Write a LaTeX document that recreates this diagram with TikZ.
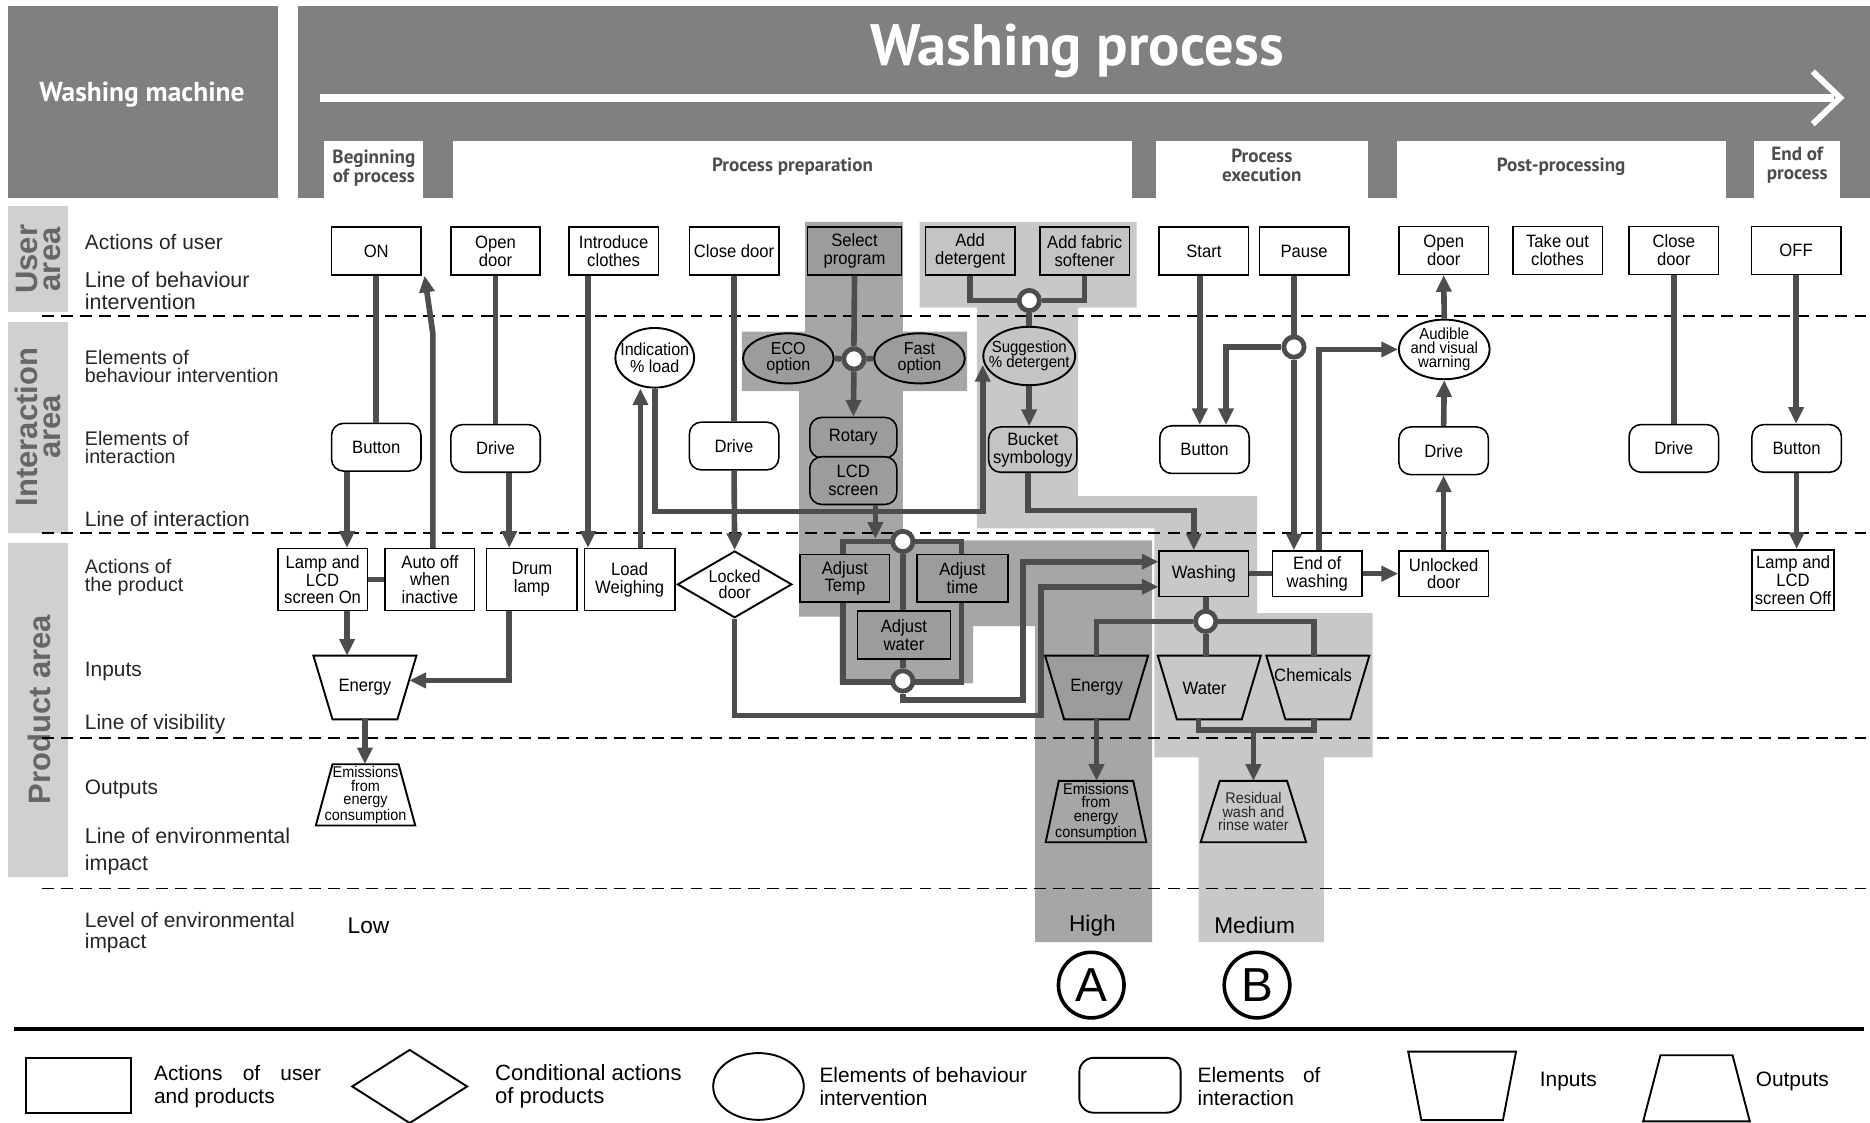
\documentclass[tikz,border=0pt]{standalone}
\usepackage{fontspec}
\setmainfont{Liberation Sans}
\newfontfamily\boxfont[FakeStretch=0.93]{Liberation Sans}
\newfontfamily\headfont{PT Sans}
\usetikzlibrary{shapes.geometric,arrows.meta,calc}
\definecolor{hdr}{HTML}{808080}
\definecolor{dk}{HTML}{A6A6A6}
\definecolor{dkn}{HTML}{9C9C9C}
\definecolor{lt}{HTML}{C8C8C8}
\definecolor{ltn}{HTML}{C4C4C4}
\definecolor{cg}{HTML}{4D4D4D}
\definecolor{side}{HTML}{D0D0D0}
\definecolor{sidetxt}{HTML}{666666}
\definecolor{phtxt}{HTML}{4D4D4D}
\definecolor{lbltxt}{HTML}{262626}
\newcommand{\intrap}[3]{\draw[shp,fill=#3] (#1.north west) -- (#1.north east) -- ([xshift=-#2]#1.south east) -- ([xshift=#2]#1.south west) -- cycle;}
\newcommand{\outtrap}[3]{\draw[shp,fill=#3] ([xshift=#2]#1.north west) -- ([xshift=-#2]#1.north east) -- (#1.south east) -- (#1.south west) -- cycle;}
\begin{document}
\begin{tikzpicture}[x=1pt,y=-1pt,
  conn/.style={draw=cg, line width=4.7pt},
  arr/.style={-{Triangle[length=14pt,width=12.5pt]}},
  act/.style={draw, line width=1.3pt, fill=white, minimum width=75pt, minimum height=40pt,
    inner sep=0pt, align=center, font=\boxfont\fontsize{15}{15}\selectfont},
  ibox/.style={act, rounded corners=10pt},
  shp/.style={draw, line width=1.6pt, inner sep=0pt},
  behav/.style={shp, ellipse, fill=white},
  tbox/.style={inner sep=0pt},
  bt/.style={font=\boxfont\fontsize{15}{15}\selectfont, align=center, inner sep=0pt},
  junc/.style={circle, draw=cg, line width=4pt, fill=white, minimum size=17pt, inner sep=0pt},
  rowlbl/.style={anchor=west, align=left, inner sep=0pt, text=lbltxt, font=\fontsize{17.5}{18}\selectfont},
  phase/.style={align=center, inner sep=0pt, text=phtxt, font=\headfont\bfseries\fontsize{16}{16}\selectfont},
  sidel/.style={rotate=90, align=center, inner sep=0pt, text=sidetxt, font=\bfseries\fontsize{26}{19}\selectfont},
  lgt/.style={anchor=west, align=left, inner sep=0pt, font=\fontsize{17.5}{19}\selectfont},
  dline/.style={dash pattern=on 10pt off 6pt, line width=1.6pt}
]
\useasboundingbox (0,0) rectangle (1568,941.6);

% ---------- header ----------
\fill[hdr] (7,5) rectangle (233,166);
\fill[hdr] (250,5) rectangle (1568,166);
\node[text=white, inner sep=0pt, font=\headfont\bfseries\fontsize{23}{24}\selectfont] (wm) at (119,79) {Washing machine};
\node[text=white, inner sep=0pt, font=\headfont\bfseries\fontsize{49}{50}\selectfont] (wp) at (903,43) {Washing process};
\draw[white, line width=7pt] (268,82) -- (1538,82);
\draw[white, line width=5pt] (1520,60) -- (1543,82) -- (1520,104);
\fill[white] (272,118) rectangle (355,166);
\fill[white] (380,118) rectangle (949,166);
\fill[white] (969,118) rectangle (1147,166);
\fill[white] (1171,118) rectangle (1447,166);
\fill[white] (1471,118) rectangle (1543,166);
\node[phase] (ph1) at (313.5,141) {Beginning\\of process};
\node[phase] (ph2) at (664.5,140) {Process preparation};
\node[phase] (ph3) at (1058,138.5) {Process\\execution};
\node[phase] (ph4) at (1309,140) {Post-processing};
\node[phase] (ph5) at (1507,138.5) {End of\\process};

% ---------- side areas ----------
\fill[side] (7,173) rectangle (57,262);
\fill[side] (7,270) rectangle (57,447);
\fill[side] (7,455) rectangle (57,735);
\node[sidel] (sa1) at (32,217.5) {User\\area};
\node[sidel] (sa2) at (32,358) {Interaction\\area};
\node[sidel] (sa3) at (33,595) {Product area};

% ---------- row labels ----------
\node[rowlbl] (r1) at (71,203) {Actions of user};
\node[rowlbl, font=\fontsize{18}{18}\selectfont] (r2) at (71,244) {Line of behaviour\\intervention};
\node[rowlbl, font=\fontsize{16.5}{15}\selectfont] (r3) at (71,307.5) {Elements of\\behaviour intervention};
\node[rowlbl, font=\fontsize{16.5}{15}\selectfont] (r4) at (71,375.5) {Elements of\\interaction};
\node[rowlbl] (r5) at (71,435) {Line of interaction};
\node[rowlbl, font=\fontsize{16.5}{15}\selectfont] (r6) at (71,484.5) {Actions of\\the product};
\node[rowlbl] (r7) at (71,563) {Inputs};
\node[rowlbl] (r8) at (71,607) {Line of visibility};
\node[rowlbl] (r9) at (71,662) {Outputs};
\node[rowlbl, font=\fontsize{18}{22}\selectfont] (r10) at (71,714) {Line of environmental\\impact};
\node[rowlbl, font=\fontsize{17.5}{18}\selectfont] (r11) at (71,782) {Level of environmental\\impact};

% ---------- shaded regions ----------
\fill[dk] (675,186) -- (757,186) -- (757,278) -- (811,278) -- (811,328) -- (757,328)
  -- (757,453) -- (966,453) -- (966,790) -- (868,790) -- (868,525) -- (816,525)
  -- (816,573) -- (704,573) -- (704,517) -- (670,517) -- (670,328) -- (622,328)
  -- (622,278) -- (675,278) -- cycle;
\fill[lt] (771,186) -- (953,186) -- (953,258) -- (904,258) -- (904,416) -- (1054,416)
  -- (1054,514) -- (1151,514) -- (1151,635) -- (1110,635) -- (1110,790) -- (1005,790)
  -- (1005,635) -- (968,635) -- (968,443) -- (819,443) -- (819,258) -- (771,258) -- cycle;

% ---------- dashed lines ----------
\draw[dline] (35,265) -- (1568,265);
\draw[dline] (35,447) -- (1568,447);
\draw[dline] (35,619) -- (1568,619);
\draw[dline] (35,745) -- (1568,745);
\draw[line width=3pt] (12,863) -- (1563,863);

% ---------- row 1: actions of user ----------
\node[act] (on) at (315.5,210.5) {ON};
\node[act] (open1) at (415.5,210.5) {Open\\door};
\node[act] (intro) at (514.5,210.5) {Introduce\\clothes};
\node[act] (close1) at (615.5,210.5) {Close door};
\node[act, fill=dkn, minimum width=79pt] (selp) at (716.5,210.5) {Select\\program};
\node[act, fill=ltn] (adet) at (813.5,210.5) {Add\\detergent};
\node[act, fill=ltn] (asoft) at (909.5,210.5) {Add fabric\\softener};
\node[act] (start) at (1009.5,210.5) {Start};
\node[act] (pause) at (1093.5,210.5) {Pause};
\node[act] (open2) at (1210.5,210) {Open\\door};
\node[act] (takeout) at (1306,210) {Take out\\clothes};
\node[act] (close2) at (1403.5,210) {Close\\door};
\node[act] (off) at (1506,210) {OFF};

% ---------- row 2: behaviour intervention ----------
\node[behav, minimum width=66pt, minimum height=50pt] (indic) at (549,300) {};
\node[bt, font=\boxfont\fontsize{14.5}{14}\selectfont] (indict) at (indic) {Indication\\\% load};
\node[behav, fill=dkn, minimum width=76pt, minimum height=42pt] (eco) at (661,300.5) {};
\node[bt, font=\boxfont\fontsize{14.5}{13.5}\selectfont] (ecot) at (eco) {ECO\\option};
\node[behav, fill=dkn, minimum width=76pt, minimum height=42pt] (fast) at (771,300.5) {};
\node[bt, font=\boxfont\fontsize{14.5}{13.5}\selectfont] (fastt) at (fast) {Fast\\option};
\node[junc] (j1) at (716,301) {};
\node[junc] (j2) at (863,252) {};
\node[behav, fill=ltn, minimum width=77pt, minimum height=49pt] (sugg) at (863,298.5) {};
\node[bt, font=\boxfont\fontsize{13.5}{13}\selectfont] (suggt) at (sugg) {Suggestion\\\% detergent};
\node[junc] (jp) at (1085,291) {};
\node[behav, minimum width=76pt, minimum height=50pt] (aud) at (1211,293) {};
\node[bt, font=\boxfont\fontsize{13.5}{11.5}\selectfont] (audt) at (aud) {Audible\\and visual\\warning};

% ---------- row 3: interaction ----------
\node[ibox] (btn1) at (315.5,375) {Button};
\node[ibox] (drv1) at (415.5,376) {Drive};
\node[ibox] (drv2) at (615.5,374) {Drive};
\node[ibox, fill=dkn, minimum width=73pt, minimum height=34pt] (rot) at (715.5,367) {Rotary};
\node[ibox, fill=dkn, minimum width=73pt, minimum height=40pt] (lcd) at (715.5,403) {LCD\\screen};
\node[ibox, fill=ltn, minimum width=74pt, minimum height=38pt] (bucket) at (866,377) {Bucket\\symbology};
\node[ibox] (btn2) at (1010,377) {Button};
\node[ibox] (drv3) at (1210.5,378) {Drive};
\node[ibox] (drv4) at (1403.5,376) {Drive};
\node[ibox] (btn3) at (1506.5,376) {Button};

% ---------- row 4: actions of the product ----------
\node[act, minimum height=52pt] (lamp1) at (270.5,486) {Lamp and\\LCD\\screen On};
\node[act, minimum height=52pt] (auto) at (360.5,486) {Auto off\\when\\inactive};
\node[act, minimum height=52pt, minimum width=76pt] (drum) at (446,486) {Drum\\lamp};
\node[act, minimum height=52pt, minimum width=76pt] (load) at (528,486) {Load\\Weighing};
\node[shp, diamond, fill=white, minimum width=96pt, minimum height=56pt] (locked) at (616,490) {};
\node[bt, font=\boxfont\fontsize{14.5}{13}\selectfont] (lockedt) at (locked) {Locked\\door};
\node[draw=cg, line width=4.5pt, minimum width=99pt, minimum height=118pt, inner sep=0pt] (frame) at (756.5,513) {};
\node[act, fill=dkn] (adjt) at (708.5,485) {Adjust\\Temp};
\node[act, fill=dkn, minimum width=76pt] (adjtime) at (807,485) {Adjust\\time};
\node[act, fill=dkn, minimum width=78pt] (adjw) at (758,532.5) {Adjust\\water};
\node[junc] (jt) at (757,454) {};
\node[junc] (jb) at (757,571) {};
\node[act, fill=lt, minimum height=38pt] (wash) at (1009.5,481) {Washing};
\node[act, minimum height=38pt] (eow) at (1104.5,481) {End of\\washing};
\node[act, minimum height=38pt] (unl) at (1210.5,481) {Unlocked\\door};
\node[act, minimum width=69pt, minimum height=51pt] (lampoff) at (1503.5,486.5) {Lamp and\\LCD\\screen Off};
\node[junc] (jw) at (1011,521) {};

% ---------- row 5: inputs ----------
\node[tbox, minimum width=86pt, minimum height=53pt] (en1) at (306,576.5) {};
\intrap{en1}{16pt}{white}
\node[bt] (en1t) at (en1) {Energy};
\node[tbox, minimum width=86pt, minimum height=53pt] (enA) at (919.5,576.5) {};
\intrap{enA}{16pt}{dkn}
\node[bt] (enAt) at (enA) {Energy};
\node[tbox, minimum width=86pt, minimum height=53pt] (water) at (1014,576.5) {};
\intrap{water}{16pt}{lt}
\node[bt] (watert) at (1010,577) {Water};
\node[tbox, minimum width=86pt, minimum height=53pt] (chem) at (1105,576.5) {};
\intrap{chem}{16pt}{lt}
\node[bt] (chemt) at (1101,566) {Chemicals};

% ---------- row 6: outputs ----------
\node[tbox, minimum width=83pt, minimum height=51pt] (em1) at (306.5,666.5) {};
\outtrap{em1}{14pt}{white}
\node[bt, font=\boxfont\fontsize{13}{11.5}\selectfont] (em1t) at (em1) {Emissions\\from\\energy\\consumption};
\node[tbox, minimum width=84pt, minimum height=51pt] (emA) at (919,680.5) {};
\outtrap{emA}{11pt}{dk}
\node[bt, font=\boxfont\fontsize{13}{11.5}\selectfont] (emAt) at (emA) {Emissions\\from\\energy\\consumption};
\node[tbox, minimum width=88pt, minimum height=51pt] (resid) at (1051,680.5) {};
\outtrap{resid}{16pt}{lt}
\node[bt, font=\boxfont\fontsize{13}{11.5}\selectfont, text=lbltxt] (residt) at (resid) {Residual\\wash and\\rinse water};

% ---------- level of impact ----------
\node[inner sep=0pt, font=\fontsize{19}{20}\selectfont] (low) at (309,776) {Low};
\node[inner sep=0pt, font=\fontsize{19}{20}\selectfont] (high) at (916,776) {High};
\node[inner sep=0pt, font=\fontsize{19}{20}\selectfont] (med) at (1052,776) {Medium};
\node[circle, draw, line width=3pt, minimum size=55pt, inner sep=0pt, font=\fontsize{40}{40}\selectfont] (cA) at (915,826) {A};
\node[circle, draw, line width=3pt, minimum size=55pt, inner sep=0pt, font=\fontsize{40}{40}\selectfont] (cB) at (1054,826) {B};

% ---------- connectors ----------
\coordinate (c1) at (824,429);
\coordinate (c1e) at (824,306);
\coordinate (c2) at (1001,428);
\coordinate (c3) at (1051,612);
\coordinate (c4) at (873,600);
\coordinate (c5) at (858,587);
\coordinate (c6) at (363,280);

\draw[conn] (on.south) -- (btn1.north);
\coordinate (b1o) at ([xshift=-24.5pt]btn1.south);
\draw[conn,arr] (b1o) -- (b1o |- lamp1.north);
\draw[conn] (lamp1.east) -- (auto.west);
\coordinate (ao) at ([xshift=2.5pt]auto.north);
\coordinate (oni) at ([xshift=40.5pt]on.south);
\draw[conn,arr] (ao) -- (c6) -- (oni);
\draw[conn] (open1.south) -- (drv1.north);
\coordinate (d1o) at ([xshift=11.5pt]drv1.south);
\draw[conn,arr] (d1o) -- (d1o |- drum.north);
\coordinate (io) at ([xshift=-21.5pt]intro.south);
\draw[conn,arr] (io) -- (io |- load.north);
\coordinate (lo) at ([xshift=9pt]load.north);
\draw[conn,arr] (lo) -- (lo |- indic.south);
\draw[conn,arr] (indic.south) |- (c1) -- (c1e);
\draw[conn] (close1.south) -- (drv2.north);
\draw[conn,arr] (drv2.south) -- (locked.north);
\coordinate (wlo) at ([yshift=-11pt]wash.west);
\coordinate (whi) at ([yshift=10pt]wash.west);
\draw[conn,arr] (locked.south) |- (c4) |- (wlo);
\draw[conn] (selp.south) -- (j1.north);
\draw[conn,arr] (j1.south) -- (rot.north);
\draw[conn] (eco.east) -- (j1.west);
\draw[conn] (j1.east) -- (fast.west);
\coordinate (lcdo) at ([xshift=18.5pt]lcd.south);
\draw[conn,arr] (lcdo) -- (lcdo |- frame.north);
\draw[conn] (jt.south) -- (jt.south |- adjw.north);
\draw[conn] (jb.north |- adjw.south) -- (jb.north);
\draw[conn,arr] (jb.south) |- (c5) |- (whi);
\draw[conn] (adet.south) |- (j2.west);
\draw[conn] (asoft.south) |- (j2.east);
\draw[conn] (j2.south) -- (sugg.north);
\draw[conn,arr] (sugg.south) -- (sugg.south |- bucket.north);
\coordinate (bko) at ([xshift=-4pt]bucket.south);
\draw[conn,arr] (bko) |- (c2) -- (c2 |- wash.north);
\coordinate (sto) at ([xshift=-3.5pt]start.south);
\draw[conn,arr] (sto) -- (sto |- btn2.north);
\coordinate (pso) at ([xshift=-8.5pt]pause.south);
\draw[conn] (pso) -- (jp.north);
\draw[conn,arr] (jp.south) -- (jp.south |- eow.north);
\coordinate (b2i) at ([xshift=18pt]btn2.north);
\draw[conn,arr] (jp.west) -| (b2i);
\coordinate (eou) at ([xshift=1.5pt]eow.north);
\draw[conn,arr] (eou) |- (aud.west);
\draw[conn] (wash.east) -- (eow.west);
\draw[conn,arr] (eow.east) -- (unl.west);
\draw[conn,arr] (unl.north) -- (drv3.south);
\draw[conn,arr] (drv3.north) -- (aud.south);
\draw[conn,arr] (aud.north) -- (open2.south);
\draw[conn] (close2.south) -- (drv4.north);
\draw[conn,arr] (off.south) -- (off.south |- btn3.north);
\draw[conn,arr] (btn3.south) -- (btn3.south |- lampoff.north);
\coordinate (l1o) at ([xshift=20.5pt]lamp1.south);
\draw[conn,arr] (l1o) -- (l1o |- en1.north);
\coordinate (dro) at ([xshift=-19pt]drum.south);
\coordinate (e1r) at ([xshift=-6pt,yshift=6pt]en1.east);
\draw[conn,arr] (dro) |- (e1r);
\draw[conn,arr] (en1.south) -- (en1.south |- em1.north);
\draw[conn] (jw.north |- wash.south) -- (jw.north);
\draw[conn] (jw.south) -- (jw.south |- water.north);
\draw[conn] (jw.west) -| (enA.north);
\coordinate (cho) at ([xshift=-3pt]chem.north);
\draw[conn] (jw.east) -| (cho);
\draw[conn,arr] (enA.south) -- (enA.south |- emA.north);
\coordinate (wo) at ([xshift=-9pt]water.south);
\coordinate (co) at ([xshift=-3pt]chem.south);
\draw[conn] (wo) |- (c3) -| (co);
\draw[conn,arr] (c3) -- (c3 |- resid.north);

% ---------- legend ----------
\node[shp, minimum width=88pt, minimum height=46pt] (lg1) at (66,910) {};
\node[lgt] (lg1t) at (129,911) {\makebox[140pt][s]{Actions of user}\\and products};
\node[shp, diamond, minimum width=97pt, minimum height=62pt] (lg2) at (343.5,911) {};
\node[lgt, font=\fontsize{18.5}{19}\selectfont] (lg2t) at (415,911) {Conditional actions\\of products};
\node[shp, ellipse, minimum width=76pt, minimum height=56pt] (lg3) at (636,911) {};
\node[lgt] (lg3t) at (687,911) {Elements of behaviour\\intervention};
\node[shp, rounded corners=12pt, minimum width=85pt, minimum height=46pt] (lg4) at (947.5,910) {};
\node[lgt] (lg4t) at (1004,911) {\makebox[103pt][s]{Elements of}\\interaction};
\node[tbox, minimum width=90pt, minimum height=57pt] (lg5) at (1226,910.5) {};
\intrap{lg5}{11pt}{white}
\node[lgt] (lg5t) at (1291,907) {Inputs};
\node[tbox, minimum width=89pt, minimum height=55pt] (lg6) at (1422.5,912.5) {};
\outtrap{lg6}{14.5pt}{white}
\node[lgt] (lg6t) at (1472,907) {Outputs};
\end{tikzpicture}
\end{document}
